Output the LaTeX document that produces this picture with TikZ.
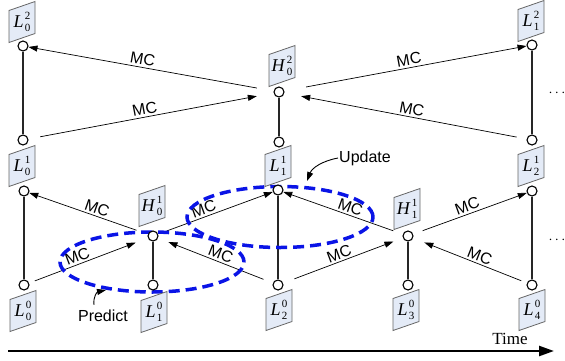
\documentclass[tikz,border=0pt]{standalone}
\usepackage{fontspec}
\setmainfont{Liberation Serif}
\setsansfont{Liberation Sans}
\usetikzlibrary{arrows.meta,shapes.geometric}

\definecolor{tagblue}{RGB}{228,235,247}
\definecolor{regionblue}{RGB}{10,20,230}

\pgfdeclarelayer{back}
\pgfsetlayers{back,main}

\tikzset{
  joint/.style={circle,draw,line width=1.1pt,fill=white,minimum size=10pt,inner sep=0pt},
  link/.style={line width=1.6pt,draw=black!85},
  mc/.style={line width=0.7pt,-{Triangle[length=9pt,width=6pt]}},
  mclabel/.style={sloped,above,font=\sffamily\fontsize{16}{16}\selectfont,inner sep=2pt},
  tagshape/.style={draw=black!60,fill=tagblue,line width=0.8pt},
  tagtext/.style={inner sep=0pt,font=\fontsize{18}{18}\selectfont},
  region/.style={draw=regionblue,line width=3.5pt,dash pattern=on 11pt off 6pt,
    ellipse,inner sep=0pt},
  note/.style={font=\sffamily\fontsize{16}{16}\selectfont,inner sep=1pt},
  pointer/.style={line width=0.9pt,-{Triangle[length=9pt,width=6pt]}},
}

% symbol with stacked sub- and superscript: letter, sub, sup
\newcommand\subsup[3]{%
  \textit{#1}\hspace{1.2pt}%
  \rlap{\raisebox{7.8pt}{\fontsize{11}{11}\selectfont #3}}%
  \raisebox{-4.2pt}{\fontsize{11}{11}\selectfont #2}}

% slanted label card: name, centre, text
\newcommand\slanttag[3]{%
  \begin{scope}[shift={(#2)}]
    \filldraw[tagshape] (-13,-11.5) -- (13,-20.5) -- (13,11.5) -- (-13,20.5) -- cycle;
    \node[tagtext] (#1) at (0,0) {#3};
  \end{scope}}

\begin{document}
\begin{tikzpicture}[x=1pt,y=-1pt]
\useasboundingbox (0,0) rectangle (565,360);

% joints
\node[joint] (c0top) at (23,46) {};
\node[joint] (c0mid) at (23,140) {};
\node[joint] (c0b1) at (24,191) {};
\node[joint] (c0b0) at (24,285) {};
\node[joint] (h01) at (153,236) {};
\node[joint] (h01b) at (153,285) {};
\node[joint] (h02) at (279,92) {};
\node[joint] (h02b) at (279,142) {};
\node[joint] (c2t) at (278,190) {};
\node[joint] (c2b) at (278,285) {};
\node[joint] (h11) at (408,236) {};
\node[joint] (h11b) at (408,285) {};
\node[joint] (c4top) at (532,45) {};
\node[joint] (c4mid) at (532,140) {};
\node[joint] (c4t) at (532,191) {};
\node[joint] (c4b) at (532,285) {};

% cards
\slanttag{tL02}{22,22}{\subsup{L}{0}{2}}
\slanttag{tL01}{22,166}{\subsup{L}{0}{1}}
\slanttag{tL00}{23,311}{\subsup{L}{0}{0}}
\slanttag{tH01}{152,206}{\subsup{H}{0}{1}}
\slanttag{tL10}{154,312}{\subsup{L}{1}{0}}
\slanttag{tH02}{282,66}{\subsup{H}{0}{2}}
\slanttag{tL11}{278,166}{\subsup{L}{1}{1}}
\slanttag{tL20}{279,310}{\subsup{L}{2}{0}}
\slanttag{tH11}{407,209}{\subsup{H}{1}{1}}
\slanttag{tL30}{406,310}{\subsup{L}{3}{0}}
\slanttag{tL12}{531,21}{\subsup{L}{1}{2}}
\slanttag{tL21}{531,166}{\subsup{L}{2}{1}}
\slanttag{tL40}{532,310}{\subsup{L}{4}{0}}

% continuation dots
\node[font=\fontsize{14}{14}\selectfont] (more1) at (557,93) {$\cdots$};
\node[font=\fontsize{14}{14}\selectfont] (more2) at (557,240) {$\cdots$};

% notes
\node[note] (upd) at (365,158) {Update};
\node[note] (pred) at (103,316) {Predict};
\coordinate (updtip) at (307,181);
\coordinate (predtip) at (106,290);

% time axis
\node[font=\fontsize{17}{17}\selectfont] (tm) at (510,339) {Time};
\coordinate (ax0) at (8,351);
\coordinate (ax1) at (554,351);

\begin{pgfonlayer}{back}
  % vertical links
  \draw[link] (c0top) -- (c0mid);
  \draw[link] (c0b1) -- (c0b0);
  \draw[link] (h01) -- (h01b);
  \draw[link] (h02) -- (h02b);
  \draw[link] (c2t) -- (c2b);
  \draw[link] (h11) -- (h11b);
  \draw[link] (c4top) -- (c4mid);
  \draw[link] (c4t) -- (c4b);

  % motion-compensated steps, upper level
  \draw[mc,shorten <=17pt] (h02) -- node[mclabel,pos=0.54]{MC} (c0top);
  \draw[mc,shorten <=12pt,shorten >=17pt] (c0mid) -- node[mclabel,pos=0.48]{MC} (h02);
  \draw[mc,shorten <=22pt] (h02) -- node[mclabel,pos=0.52]{MC} (c4top);
  \draw[mc,shorten <=10pt,shorten >=17pt] (c4mid) -- node[mclabel,pos=0.48]{MC} (h02);

  % motion-compensated steps, lower level
  \draw[mc,shorten <=12pt] (h01) -- node[mclabel,pos=0.45]{MC} (c0b1);
  \draw[mc,shorten <=6pt,shorten >=13pt] (c0b0) -- node[mclabel,pos=0.43]{MC} (h01);
  \draw[mc,shorten <=9pt] (h01) -- node[mclabel,pos=0.42]{MC} (c2t);
  \draw[mc,shorten <=10pt,shorten >=11pt] (c2b) -- node[mclabel,pos=0.48]{MC} (h01);
  \draw[mc,shorten <=12pt,shorten >=10pt] (c2b) -- node[mclabel,pos=0.49]{MC} (h11);
  \draw[mc,shorten <=10pt] (h11) -- node[mclabel,pos=0.46]{MC} (c2t);
  \draw[mc,shorten <=10pt] (h11) -- node[mclabel,pos=0.5]{MC} (c4t);
  \draw[mc,shorten <=6pt,shorten >=12pt] (c4b) -- node[mclabel,pos=0.44]{MC} (h11);

  % lifting regions
  \node[region,minimum width=184pt,minimum height=60pt] (predzone) at (152,262) {};
  \node[region,minimum width=186pt,minimum height=61pt] (updzone) at (280,217) {};

  % pointers to the regions
  \draw[pointer] (upd.west) .. controls (322,161) and (312,168) .. (updtip);
  \draw[pointer] (pred.north) ++(-9,-4) coordinate (predtail)
     .. controls (93,297) and (97,292) .. (predtip);

  % time axis
  \draw[line width=2.4pt,-{Triangle[length=15pt,width=10pt]}] (ax0) -- (ax1);
\end{pgfonlayer}
\end{tikzpicture}
\end{document}
